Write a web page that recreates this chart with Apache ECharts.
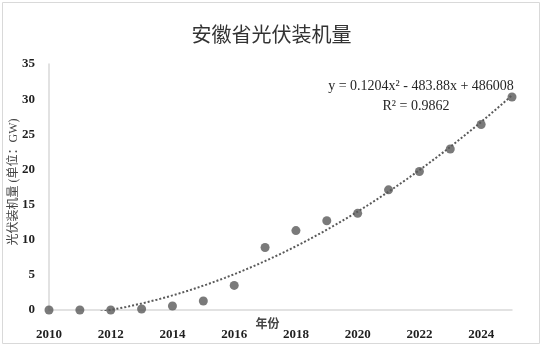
<!DOCTYPE html>
<html>
<head>
<meta charset="utf-8">
<script src="https://cdn.jsdelivr.net/npm/echarts@6/dist/echarts.min.js"></script>
<style>
  html, body { margin: 0; padding: 0; background: #fff; }
  #chart { width: 543px; height: 348px; }
</style>
</head>
<body>
<div id="chart"></div>
<script>
// 年份与装机量（GW）
const years = [2010, 2011, 2012, 2013, 2014, 2015, 2016, 2017, 2018, 2019, 2020, 2021, 2022, 2023, 2024, 2025]
const capacity = [0, 0, 0, 0.14, 0.57, 1.28, 3.5, 8.9, 11.3, 12.7, 13.75, 17.1, 19.7, 22.9, 26.4, 30.3]
const yTicks = [0, 5, 10, 15, 20, 25, 30, 35]
const equationText = "y = 0.1204x² - 483.88x + 486008"
const r2Text = "R² = 0.9862"

// 二次多项式趋势线（最小二乘，x 以 2010 为基准）
const fitQuadratic = (xs, ys) => {
  const s = [0, 0, 0, 0, 0]
  const t = [0, 0, 0]
  xs.forEach((x0, i) => {
    const x = x0 - 2010
    for (let k = 0; k < 5; k++) s[k] += Math.pow(x, k)
    for (let k = 0; k < 3; k++) t[k] += ys[i] * Math.pow(x, k)
  })
  const m = [
    [s[0], s[1], s[2], t[0]],
    [s[1], s[2], s[3], t[1]],
    [s[2], s[3], s[4], t[2]],
  ]
  for (let i = 0; i < 3; i++) {
    for (let j = i + 1; j < 3; j++) {
      const f = m[j][i] / m[i][i]
      for (let k = i; k < 4; k++) m[j][k] -= f * m[i][k]
    }
  }
  const c = [0, 0, 0]
  for (let i = 2; i >= 0; i--) {
    let v = m[i][3]
    for (let k = i + 1; k < 3; k++) v -= m[i][k] * c[k]
    c[i] = v / m[i][i]
  }
  return c
}
const coef = fitQuadratic(years, capacity)
const trend = []
for (let x = years[0]; x <= years[years.length - 1] + 1e-9; x += 0.05) {
  const d = x - 2010
  trend.push([x, coef[0] + coef[1] * d + coef[2] * d * d])
}

const chart = echarts.init(document.getElementById("chart"))
const serif = "'Liberation Serif', 'Noto Sans CJK SC', serif"
const option = {
  animation: false,
  title: {
    text: "安徽省光伏装机量",
    left: "center",
    top: 19,
    textStyle: {
      fontFamily: "'Noto Sans CJK SC', sans-serif",
      fontSize: 20,
      fontWeight: "normal",
      color: "#333",
    },
  },
  grid: {
    left: 49,
    right: 31,
    top: 64,
    bottom: 38,
    containLabel: false,
    outerBoundsMode: "none",
  },
  xAxis: {
    type: "value",
    min: 2010,
    max: 2025,
    interval: 2,
    name: "年份",
    nameLocation: "middle",
    nameGap: 9,
    nameMoveOverlap: false,
    nameTextStyle: {
      fontFamily: serif,
      fontSize: 12,
      fontWeight: "bold",
      color: "#444",
      padding: [0, 26, 0, 0],
    },
    axisLine: { lineStyle: { color: "#d9d9d9", width: 1.5 } },
    axisTick: { show: false },
    splitLine: { show: false },
    axisLabel: {
      margin: 18,
      showMaxLabel: false,
      fontFamily: serif,
      fontSize: 13,
      fontWeight: "bold",
      color: "#1f1f1f",
      formatter: (v) => String(v),
    },
  },
  yAxis: {
    type: "value",
    min: yTicks[0],
    max: yTicks[yTicks.length - 1],
    interval: 5,
    name: "光伏装机量 (单位：GW)",
    nameLocation: "middle",
    nameRotate: 90,
    nameGap: 29,
    nameMoveOverlap: false,
    nameTextStyle: {
      fontFamily: serif,
      fontSize: 12,
      color: "#444",
      padding: [0, 0, 0, 10],
    },
    axisLine: { show: true, lineStyle: { color: "#d9d9d9", width: 1.5 } },
    axisTick: { show: false },
    splitLine: { show: false },
    axisLabel: {
      margin: 14,
      fontFamily: serif,
      fontSize: 13,
      fontWeight: "bold",
      color: "#1f1f1f",
    },
  },
  graphic: [
    {
      type: "rect",
      shape: { x: 2.5, y: 2.5, width: 537, height: 341 },
      style: { fill: "none", stroke: "#d9d9d9", lineWidth: 1 },
      silent: true,
    },
    {
      type: "text",
      x: 421,
      y: 86,
      style: {
        text: equationText,
        fontFamily: serif,
        fontSize: 14,
        fill: "#262626",
        textAlign: "center",
        textVerticalAlign: "middle",
      },
    },
    {
      type: "text",
      x: 416,
      y: 106,
      style: {
        text: r2Text,
        fontFamily: serif,
        fontSize: 14,
        fill: "#262626",
        textAlign: "center",
        textVerticalAlign: "middle",
      },
    },
  ],
  series: [
    {
      name: "趋势线",
      type: "line",
      data: trend,
      showSymbol: false,
      smooth: false,
      clip: true,
      lineStyle: {
        color: "#595959",
        width: 2,
        type: [2, 2],
      },
      z: 2,
    },
    {
      name: "装机量",
      type: "scatter",
      data: years.map((y, i) => [y, capacity[i]]),
      symbolSize: 9,
      itemStyle: { color: "#595959" },
      z: 3,
    },
  ],
}
chart.setOption(option)
</script>
</body>
</html>
